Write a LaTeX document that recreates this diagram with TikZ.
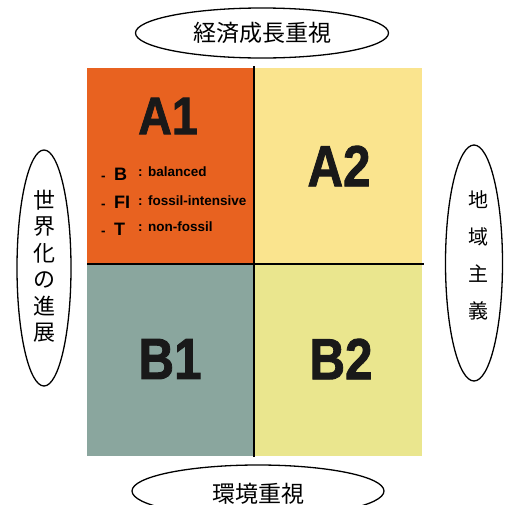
\documentclass[tikz,border=0pt]{standalone}
\usepackage{fontspec}
\usepackage{graphicx}
\setmainfont{Liberation Sans}
\newfontfamily\heavyfont{Liberation Sans}[BoldFeatures={FakeBold=1.6}]
\newfontfamily\jpfont{Noto Sans CJK JP}
\usetikzlibrary{shapes.geometric}
\definecolor{aone}{RGB}{232,98,32}
\definecolor{atwo}{RGB}{250,228,142}
\definecolor{bone}{RGB}{138,166,158}
\definecolor{btwo}{RGB}{234,230,142}
\tikzset{
  oval/.style={ellipse, draw=black, line width=1.3pt, inner sep=0pt},
  divider/.style={draw=black, line width=1.8pt},
  bigtag/.style={font=\heavyfont\bfseries\fontsize{58}{58}\selectfont, inner sep=0pt, text=black!90},
  key/.style={font=\bfseries\fontsize{18}{18}\selectfont, anchor=base west, inner sep=0pt},
  keytext/.style={font=\bfseries\fontsize{13.5}{13.5}\selectfont, anchor=base west, inner sep=0pt},
  jp/.style={font=\jpfont\fontsize{23}{23}\selectfont, inner sep=0pt}
}
\begin{document}
\begin{tikzpicture}[x=1pt,y=-1pt]
\useasboundingbox (0,0) rectangle (509,504);
\clip (0,0) rectangle (509,504);
% quadrants
\fill[aone] (87,68) rectangle (254,264);
\fill[atwo] (254,68) rectangle (422,264);
\fill[bone] (87,264) rectangle (254,456);
\fill[btwo] (254,264) rectangle (422,456);
\coordinate (vtop) at (254,66);
\coordinate (vbot) at (254,457);
\coordinate (hl) at (87,264);
\coordinate (hr) at (424,264);
\draw[divider] (vtop) -- (vbot);
\draw[divider] (hl) -- (hr);
% big labels
\node[bigtag] (a1) at (168,116) {\scalebox{0.88}[1]{\fontsize{53}{53}\selectfont A1}};
\node[bigtag] (a2) at (339,166) {\scalebox{0.85}[1]{A2}};
\node[bigtag] (b1) at (170,359) {\scalebox{0.85}[1]{B1}};
\node[bigtag] (b2) at (341,359) {\scalebox{0.85}[1]{B2}};
% legend
\node[keytext] (d1) at (101,180) {-};
\node[key] (k1) at (114,180) {B};
\node[keytext] (c1) at (138,176) {:};
\node[keytext] (t1) at (148,176) {balanced};
\node[keytext] (d2) at (101,208) {-};
\node[key] (k2) at (114,208) {FI};
\node[keytext] (c2) at (138,205) {:};
\node[keytext] (t2) at (148,205) {fossil-intensive};
\node[keytext] (d3) at (101,235) {-};
\node[key] (k3) at (114,235) {T};
\node[keytext] (c3) at (138,231) {:};
\node[keytext] (t3) at (148,231) {non-fossil};
% ellipses
\node[oval, minimum width=253, minimum height=50] (top) at (262,33) {};
\node[jp] (toptext) at (262,33) {経済成長重視};
\node[oval, minimum width=252, minimum height=52] (bot) at (258,491) {};
\node[jp] (bottext) at (258,494) {環境重視};
\node[oval, minimum width=54, minimum height=236] (left) at (44,268) {};
\node[jp, font=\jpfont\fontsize{22}{26.5}\selectfont, align=center] (lefttext) at (45,266) {世\\界\\化\\の\\進\\展};
\node[oval, minimum width=57, minimum height=236] (right) at (474,263) {};
\node[jp, font=\jpfont\fontsize{20}{37}\selectfont, align=center] (righttext) at (478,255) {地\\域\\主\\義};
\end{tikzpicture}
\end{document}
